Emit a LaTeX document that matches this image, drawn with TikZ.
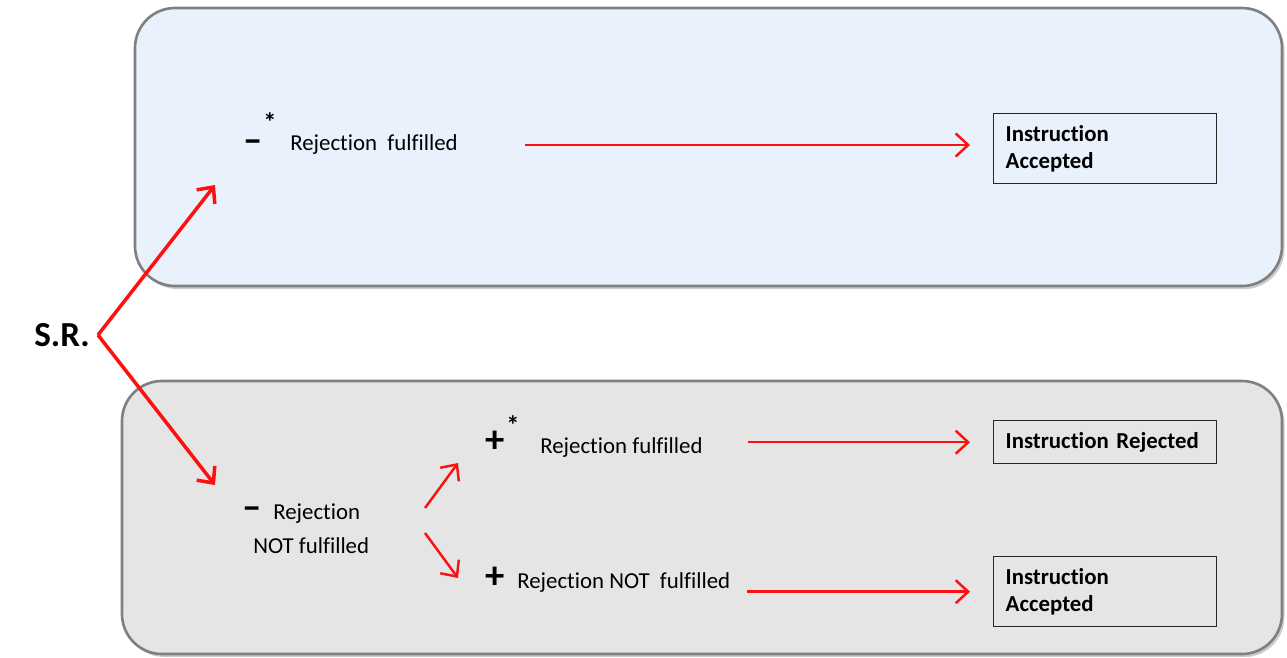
\documentclass[tikz,border=0pt]{standalone}
\usepackage{fontspec}
\setmainfont{Carlito}[Ligatures=NoCommon]
\usetikzlibrary{arrows.meta, positioning, shadows}
\definecolor{panelblue}{HTML}{E8F1FC}
\definecolor{panelgrey}{HTML}{E5E5E5}
\definecolor{flowred}{HTML}{FF1010}
\newcommand{\sign}[3]{%
  \node[font=\fontsize{22}{22}\selectfont\bfseries, inner sep=0pt] (#1) at #2 {#3};
}
\newcommand{\starmark}[2]{%
  \node[font=\fontsize{15}{15}\selectfont\bfseries, inner sep=0pt] (#1) at #2 {*};
}

\begin{document}
\begin{tikzpicture}[x=0.02cm, y=-0.02cm,
      >={Straight Barb[length=2.5mm, width=4.6mm]},
      panel/.style={rounded corners=0.8cm, draw=black!50, line width=1.5pt,
        drop shadow={opacity=0.4, shadow xshift=0.5mm, shadow yshift=-0.6mm}},
      txt/.style={font=\fontsize{13}{18}\selectfont, inner sep=0pt, anchor=west},
      result/.style={draw=black!85, line width=0.8pt, anchor=north west,
        minimum width=4.46cm, text width=3.98cm, inner xsep=0.24cm,
        align=left, font=\fontsize{13}{15.5}\selectfont\bfseries},
      flow/.style={->, flowred, line width=1.4pt},
      fork/.style={->, flowred, line width=2pt}]
    \useasboundingbox (0,0) rectangle (1287,657);
    % the two panels
    \draw[panel, fill=panelblue] (135,8) rectangle (1282,286);
    \draw[panel, fill=panelgrey] (122,381) rectangle (1282,654);

    \node[font=\fontsize{20}{20}\selectfont\bfseries, inner sep=0pt] (sr) at (62,335) {S.R.};
    \coordinate (split) at (98,335);
    \coordinate (up) at (215,185);
    \coordinate (down) at (215,485);
    \draw[fork] (split) -- (up);
    \draw[fork] (split) -- (down);

    % upper branch
    \sign{m1}{(253,146)}{–}
    \starmark{s1}{(270,122)}
    \node[txt] (rf1) at (290,145) {Rejection\ \ fulfilled};
    \node[result, minimum height=1.4cm] (acc1) at (993,113) {Instruction\\Accepted};
    \draw[flow, shorten <=1.34cm, shorten >=0.46cm] (rf1.east) -- (rf1.east -| acc1.west);

    % lower branch
    \sign{m2}{(252,513)}{–}
    \node[txt] (rn) at (273,514) {Rejection};
    \node[txt] (rn2) at (253,546) {NOT fulfilled};
    \coordinate (a1) at (425,508);
    \coordinate (a2) at (458,463);
    \coordinate (b1) at (425,533);
    \coordinate (b2) at (458,578);
    \draw[flow] (a1) -- (a2);
    \draw[flow] (b1) -- (b2);

    \sign{p1}{(495,442)}{+}
    \starmark{s2}{(513,425)}
    \node[txt] (rf2) at (540,448) {Rejection fulfilled};
    \node[result, minimum height=0.86cm] (rej) at (993,420) {Instruction Rejected};
    \draw[flow, shorten <=0.9cm, shorten >=0.46cm] (rf2.east |- rej.west) -- (rej.west);

    \sign{p2}{(495,578)}{+}
    \node[txt] (rnf) at (517,583) {Rejection NOT\ \ fulfilled};
    \node[result, minimum height=1.4cm] (acc2) at (993,556) {Instruction\\Accepted};
    \draw[flow, shorten <=0.32cm, shorten >=0.46cm] (rnf.east |- acc2.west) -- (acc2.west);
  \end{tikzpicture}
\end{document}
